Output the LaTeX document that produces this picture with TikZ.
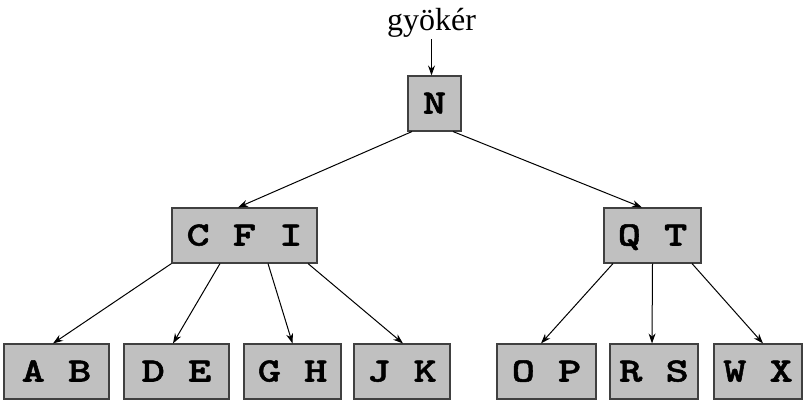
\documentclass[tikz,border=0pt]{standalone}
\usepackage{fontspec}
\newfontfamily\gyfont{Liberation Serif}
\newfontfamily\keyfont{lmmonolt10-bold.otf}[FakeStretch=1.3, FakeBold=1.5]
\usetikzlibrary{arrows.meta}
\definecolor{boxfill}{RGB}{192,192,192}
\definecolor{boxline}{RGB}{64,64,64}
\begin{document}
\begin{tikzpicture}[x=1pt,y=-1pt,
  keybox/.style={draw=boxline, fill=boxfill, line width=1.1pt, minimum height=55pt,
    inner sep=0pt, text height=20pt, text depth=0pt,
    font=\fontsize{34}{34}\selectfont\keyfont},
  link/.style={line width=1pt, -{Stealth[length=10pt,width=7pt]}}]
\useasboundingbox (0,0) rectangle (805,403);
% root label
\node[font=\fontsize{32}{32}\selectfont\gyfont, inner sep=0pt, anchor=base] (root) at (431.5,31) {gyökér};
% nodes
\node[keybox, minimum width=53pt] (N) at (434.5,103.5) {N};
\node[keybox, minimum width=145pt] (CFI) at (244.5,235.5) {C F I};
\node[keybox, minimum width=97pt] (QT) at (652.5,235.5) {Q T};
\node[keybox, minimum width=105pt] (AB) at (56.5,371.5) {A B};
\node[keybox, minimum width=105pt] (DE) at (176.5,371.5) {D E};
\node[keybox, minimum width=97pt] (GH) at (292.5,371.5) {G H};
\node[keybox, minimum width=96pt] (JK) at (402,371.5) {J K};
\node[keybox, minimum width=99pt] (OP) at (546.5,371.5) {O P};
\node[keybox, minimum width=88pt] (RS) at (654,371.5) {R S};
\node[keybox, minimum width=88pt] (WX) at (758,371.5) {W X};
% connectors
\draw[link] ([yshift=-1pt]root.south) -- (root.south |- N.north);
\draw[link] ([xshift=-22.5pt]N.south) -- ([xshift=-6.5pt]CFI.north);
\draw[link] ([xshift=18.5pt]N.south) -- ([xshift=-10.5pt]QT.north);
\draw[link] (CFI.south west) -- ([xshift=-3.5pt]AB.north);
\draw[link] ([xshift=-24.5pt]CFI.south) -- ([xshift=-3.5pt]DE.north);
\draw[link] ([xshift=23.5pt]CFI.south) -- (GH.north);
\draw[link] ([xshift=63.5pt]CFI.south) -- ([xshift=1pt]JK.north);
\draw[link] ([xshift=-39.5pt]QT.south) -- ([xshift=-5.5pt]OP.north);
\draw[link] (QT.south) -- ([xshift=-2pt]RS.north);
\draw[link] ([xshift=39.5pt]QT.south) -- ([xshift=5pt]WX.north);
\end{tikzpicture}
\end{document}
